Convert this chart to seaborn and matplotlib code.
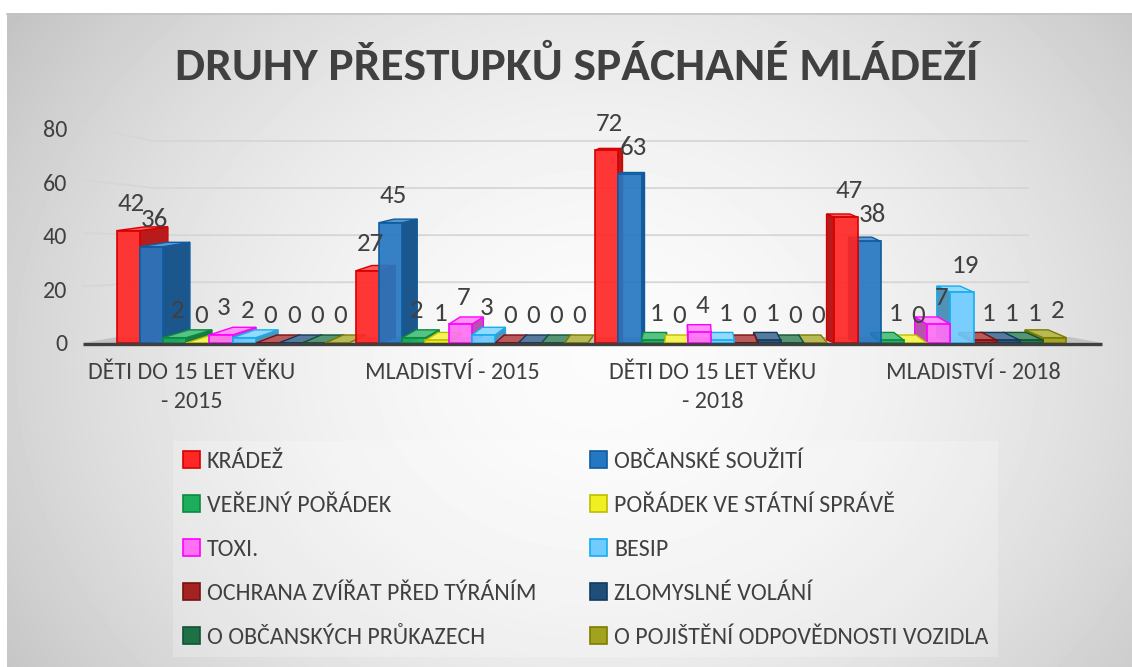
import numpy as np
import pandas as pd
import matplotlib
matplotlib.use("Agg")
import matplotlib.pyplot as plt
import seaborn as sns
from matplotlib import font_manager, transforms
from matplotlib.patches import Polygon, Patch
from matplotlib.lines import Line2D

# ---------------------------------------------------------------- data
title = "DRUHY PŘESTUPKŮ SPÁCHANÉ MLÁDEŽÍ"
categories = ["DĚTI DO 15 LET VĚKU\n- 2015", "MLADISTVÍ - 2015",
              "DĚTI DO 15 LET VĚKU\n- 2018", "MLADISTVÍ - 2018"]
series = ["KRÁDEŽ", "OBČANSKÉ SOUŽITÍ", "VEŘEJNÝ POŘÁDEK",
          "POŘÁDEK VE STÁTNÍ SPRÁVĚ", "TOXI.", "BESIP",
          "OCHRANA ZVÍŘAT PŘED TÝRÁNÍM", "ZLOMYSLNÉ VOLÁNÍ",
          "O OBČANSKÝCH PRŮKAZECH", "O POJIŠTĚNÍ ODPOVĚDNOSTI VOZIDLA"]
kradez = [42, 27, 72, 47]
obcanske_souziti = [36, 45, 63, 38]
verejny_poradek = [2, 2, 1, 1]
poradek_statni_sprava = [0, 1, 0, 0]
toxi = [3, 7, 4, 7]
besip = [2, 3, 1, 19]
ochrana_zvirat = [0, 0, 0, 1]
zlomyslne_volani = [0, 0, 1, 1]
obcanske_prukazy = [0, 0, 0, 1]
pojisteni_vozidla = [0, 0, 0, 2]
y_ticks = [0, 20, 40, 60, 80]

values = [kradez, obcanske_souziti, verejny_poradek, poradek_statni_sprava,
          toxi, besip, ochrana_zvirat, zlomyslne_volani, obcanske_prukazy,
          pojisteni_vozidla]

df = pd.DataFrame([
    {"kategorie": c, "druh": s, "pocet": v}
    for s, vals in zip(series, values)
    for c, v in zip(categories, vals)
])

# ---------------------------------------------------------------- style
faces = ["#FF2626", "#2677C2", "#1DAE5C", "#F0F020", "#FF70F5",
         "#70CCFF", "#A32222", "#1F4E7B", "#1E7046", "#A2A21E"]
edges = ["#D60000", "#0F5C9E", "#0C8A40", "#BDBD00", "#FF00FF",
         "#14AEF0", "#7A1010", "#123A5E", "#0F5533", "#7C7C00"]
text_col = "#404040"


def shade(color, f):
    r, g, b = matplotlib.colors.to_rgb(color)
    return (r * f, g * f, b * f)


def tint(color, f):
    r, g, b = matplotlib.colors.to_rgb(color)
    return (r + (1 - r) * f, g + (1 - g) * f, b + (1 - b) * f)


available = {f.name for f in font_manager.fontManager.ttflist}


def pick(cands):
    for c in cands:
        if c in available:
            return c
    return "DejaVu Sans"


base_font = pick(["Carlito", "Liberation Sans Narrow", "Roboto Condensed",
                  "Open Sans Condensed", "Lato", "Roboto"])
plt.rcParams["font.family"] = [base_font, "DejaVu Sans"]

W, H = 1132, 667
fig = plt.figure(figsize=(W / 100, H / 100), dpi=100)
fig.patch.set_facecolor("white")
renderer = fig.canvas.get_renderer()


def fit_size(s, target_px, **kw):
    t = fig.text(0, 0, s, fontsize=10, **kw)
    w = t.get_window_extent(renderer).width
    t.remove()
    return 10 * target_px / w


body = fit_size("DĚTI DO 15 LET VĚKU", 208)
body_px = body * 100 / 72
title_size = fit_size(title, 800, fontweight="heavy")


def fx(px):
    return px / W


def fy(py):
    return 1 - py / H


# ---------------------------------------------------------------- background
bg = fig.add_axes([0, 0, 1, 1], zorder=-10)
bg.set_xlim(0, W)
bg.set_ylim(H, 0)
bg.axis("off")
yy, xx = np.mgrid[13:H, 7:W]
r = np.hypot((xx - 600) / 620, (yy - 360) / 520)
grad = 0.985 - 0.17 * np.clip(r, 0, 1.4) ** 1.8
bg.imshow(grad, cmap="gray", vmin=0, vmax=1, extent=(7, W, H, 13),
          aspect="auto", interpolation="bilinear", origin="upper")
bg.plot([7, W], [13.5, 13.5], color="#c4c4c4", lw=1.2)

# ---------------------------------------------------------------- bars
ax = fig.add_axes([fx(113), fy(343), (1070 - 113) / W, (343 - 129) / H])
ax.set_facecolor("none")
sns.barplot(data=df, x="kategorie", y="pocet", hue="druh", order=categories,
            hue_order=series, palette=faces, saturation=1, width=0.97,
            gap=0, legend=False, ax=ax)
ax.set_xlim(-0.5, 3.5)
ax.set_ylim(0, 80)
for s in ax.spines.values():
    s.set_visible(False)
ax.set_xlabel("")
ax.set_ylabel("")
ax.set_yticks(y_ticks)
ax.set_xticks(range(len(categories)))
ax.set_xticklabels(categories, linespacing=1.45)
ax.tick_params(axis="y", length=0, pad=33, labelsize=body, labelcolor=text_col)
ax.tick_params(axis="x", length=0, pad=14, labelsize=body, labelcolor=text_col)

# perspective: vanishing point of the extruded depth (display x)
vp = 690
spread = transforms.Affine2D().translate(-vp, 0).scale(1.09, 1).translate(vp, 0)
for lab in ax.get_xticklabels():
    lab.set_transform(lab.get_transform() + spread)

sx = ax.transData.transform((1, 0))[0] - ax.transData.transform((0, 0))[0]
sy = ax.transData.transform((0, 1))[1] - ax.transData.transform((0, 0))[1]
label_size = body * 1.12

for i, cont in enumerate(ax.containers):
    for bar, v in zip(cont, values[i]):
        x, w = bar.get_x(), bar.get_width()
        h = bar.get_height()
        xc_px = ax.transData.transform((x + w / 2, 0))[0]
        dx_px = 0.05 * (vp - xc_px)
        dy_px = max(2.0, 8.0 * (1 - h / 80))
        dxd, dyd = dx_px / sx, dy_px / sy
        z = 3 - abs(xc_px - vp) * 1e-4
        bar.set_edgecolor(edges[i])
        bar.set_linewidth(1.3)
        bar.set_alpha(0.92)
        bar.set_zorder(z + 1e-6)
        top = Polygon([(x, h), (x + w, h), (x + w + dxd, h + dyd), (x + dxd, h + dyd)],
                      closed=True, facecolor=tint(faces[i], 0.25),
                      edgecolor=edges[i], linewidth=1.0, zorder=z)
        xs = x + w if dxd > 0 else x
        side = Polygon([(xs, 0), (xs + dxd, dyd), (xs + dxd, h + dyd), (xs, h)],
                       closed=True, facecolor=shade(faces[i], 0.72),
                       edgecolor=edges[i], linewidth=1.0, zorder=z)
        ax.add_patch(side)
        ax.add_patch(top)
        ax.annotate(f"{v}", xy=(x + w / 2, v), xytext=(3, 27),
                    textcoords="offset pixels", ha="center", va="center",
                    fontsize=label_size, color=text_col, zorder=10,
                    annotation_clip=False)

# ---------------------------------------------------------------- walls & floor
ident = transforms.IdentityTransform()
L = ax.transAxes.transform((0, 0))[0]
y0 = ax.transData.transform((0, 0))[1]
back_shift, back_scale = 13.7, 0.88
for v in y_ticks[1:]:
    yf = ax.transData.transform((0, v))[1]
    yb = y0 + back_shift + (yf - y0) * back_scale
    fig.add_artist(Line2D([L - 30, L + 40, L + 915], [yf + 3, yb, yb],
                          transform=ident, color="#d6d6d6", lw=1.3, zorder=-1))
fig.add_artist(Polygon([(L - 30, y0), (L + 989, y0), (L + 957, y0 + 6), (L + 4, y0 + 6)],
                       closed=True, transform=ident, facecolor="#c2c2c2",
                       edgecolor="none", zorder=-1))
fig.add_artist(Line2D([L - 30, L + 989], [y0 - 1.5, y0 - 1.5], transform=ident,
                      color="#404040", lw=2.4, solid_capstyle="butt", zorder=-1))

# ---------------------------------------------------------------- title
fig.text(fx(577), fy(80), title, ha="center", va="baseline",
         fontsize=title_size, fontweight="heavy", color=text_col)

# ---------------------------------------------------------------- legend
order = [0, 2, 4, 6, 8, 1, 3, 5, 7, 9]
handles = [Patch(facecolor=faces[i], edgecolor=edges[i], linewidth=1.2) for i in order]
labels = [series[i] for i in order]

t = fig.text(0, 0, "OCHRANA ZVÍŘAT PŘED TÝRÁNÍM", fontsize=body)
w1 = t.get_window_extent(renderer).width
row_h = t.get_window_extent(renderer).height
t.remove()
hl, htp, bpad = 0.7, 0.3, 0.4
col1_text_end = 183 + (hl + htp) * body_px + w1
colsp = (590 - col1_text_end) / body_px
labsp = (44 - row_h) / body_px
top_px = 461 - bpad * body_px - row_h / 2
fig.legend(handles, labels, ncol=2, loc="upper left",
           bbox_to_anchor=(fx(183 - bpad * body_px), fy(top_px)),
           frameon=True, fancybox=False, facecolor="white", framealpha=0.22,
           edgecolor="none", fontsize=body, labelcolor=text_col,
           handlelength=hl, handleheight=hl, handletextpad=htp,
           labelspacing=labsp, columnspacing=colsp, borderpad=bpad,
           borderaxespad=0)

fig.savefig("out.png", dpi=100)
